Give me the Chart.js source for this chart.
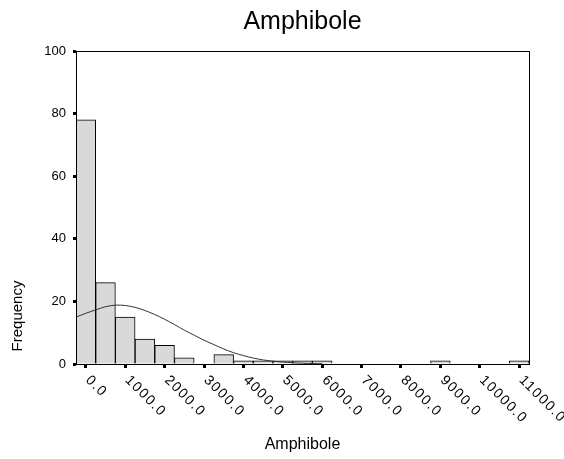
<!DOCTYPE html>
<html>
<head>
<meta charset="utf-8">
<script src="https://cdn.jsdelivr.net/npm/chart.js@4"></script>
<style>
  html, body { margin: 0; padding: 0; background: #fff; }
  #wrap { width: 564px; height: 459px; }
</style>
</head>
<body>
<div id="wrap"><canvas id="histChart" width="564" height="459"></canvas></div>
<script>
// bins are 500 wide, centred on the values below
const binCenters = [0, 500, 1000, 1500, 2000, 2500, 3000, 3500, 4000, 4500, 5000, 5500,
  6000, 6500, 7000, 7500, 8000, 8500, 9000, 9500, 10000, 10500, 11000];
const frequencies = [78, 26, 15, 8, 6, 2, 0, 3, 1, 1, 1, 1,
  1, 0, 0, 0, 0, 0, 1, 0, 0, 0, 1];

// normal curve
const curveX = [-250, 0, 250, 500, 750, 1000, 1250, 1500, 1750, 2000, 2250, 2500, 2750,
  3000, 3250, 3500, 3750, 4000, 4250, 4500, 4750, 5000, 5250, 5500, 5750, 6000];
const curveY = [15.0, 16.2, 17.3, 18.3, 18.8, 18.7, 18.1, 17.1, 15.8, 14.3, 12.6, 10.8, 9.2,
  7.6, 6.2, 4.8, 3.6, 2.7, 1.9, 1.3, 0.9, 0.6, 0.4, 0.25, 0.15, 0.1];

const xTickValues = [0, 1000, 2000, 3000, 4000, 5000, 6000, 7000, 8000, 9000, 10000, 11000];
const xTickLabels = ['0.0', '1000.0', '2000.0', '3000.0', '4000.0', '5000.0', '6000.0',
  '7000.0', '8000.0', '9000.0', '10000.0', '11000.0'];

const FONT = '"Liberation Sans", Arial, sans-serif';

// frame, title over the plot, slanted x labels and the y title
const extras = {
  id: 'extras',
  afterDraw(chart) {
    const { ctx, chartArea: a, scales: { x } } = chart;
    ctx.save();
    ctx.strokeStyle = '#000';
    ctx.lineWidth = 1;
    ctx.strokeRect(a.left + 0.5, a.top + 0.5, a.right - a.left, a.bottom - a.top);

    ctx.fillStyle = '#000';
    ctx.font = '25px ' + FONT;
    ctx.textAlign = 'center';
    ctx.textBaseline = 'alphabetic';
    ctx.fillText('Amphibole', (a.left + a.right) / 2, 29);

    ctx.font = '14px ' + FONT;
    ctx.textAlign = 'left';
    ctx.textBaseline = 'middle';
    ctx.letterSpacing = '1.5px';
    xTickValues.forEach((v, i) => {
      const px = x.getPixelForValue(v);
      ctx.save();
      ctx.translate(px + 2, a.bottom + 14);
      ctx.rotate(Math.PI / 4);
      ctx.fillText(xTickLabels[i], 0, 0);
      ctx.restore();
    });

    ctx.letterSpacing = '0px';
    ctx.font = '15px ' + FONT;
    ctx.textAlign = 'center';
    ctx.save();
    ctx.translate(18, 316);
    ctx.rotate(-Math.PI / 2);
    ctx.fillText('Frequency', 0, 0);
    ctx.restore();
    ctx.restore();
  }
};

new Chart(document.getElementById('histChart'), {
  type: 'bar',
  data: {
    datasets: [
      {
        type: 'line',
        data: curveX.map((v, i) => ({ x: v, y: curveY[i] })),
        borderColor: '#333',
        borderWidth: 1,
        pointRadius: 0,
        tension: 0.3,
        fill: false,
        order: 0
      },
      {
        data: binCenters.map((v, i) => ({ x: v, y: frequencies[i] })),
        backgroundColor: '#d9d9d9',
        borderColor: '#000',
        borderWidth: 1,
        barPercentage: 1,
        categoryPercentage: 1,
        order: 1
      }
    ]
  },
  options: {
    responsive: false,
    animation: false,
    layout: { padding: { top: 51, left: 0, right: 35, bottom: 0 } },
    plugins: {
      legend: { display: false },
      tooltip: { enabled: false },
      title: { display: false }
    },
    scales: {
      x: {
        type: 'linear',
        min: -250,
        max: 11250,
        offset: false,
        border: { display: false },
        grid: { offset: false, drawOnChartArea: false, tickLength: 4, tickWidth: 3, tickColor: '#000' },
        ticks: { display: false },
        afterBuildTicks: s => { s.ticks = xTickValues.map(v => ({ value: v })); },
        afterFit: s => { s.height = 95; },
        title: {
          display: true,
          text: 'Amphibole',
          color: '#000',
          font: { family: FONT, size: 16 },
          padding: { top: 0, bottom: 5 }
        }
      },
      y: {
        min: 0,
        max: 100,
        border: { display: false },
        grid: { drawOnChartArea: false, tickLength: 3, tickWidth: 3, tickColor: '#000' },
        ticks: { stepSize: 20, padding: 7, color: '#000', font: { family: FONT, size: 13 } },
        afterFit: s => { s.width = 76; }
      }
    }
  },
  plugins: [extras]
});
</script>
</body>
</html>
